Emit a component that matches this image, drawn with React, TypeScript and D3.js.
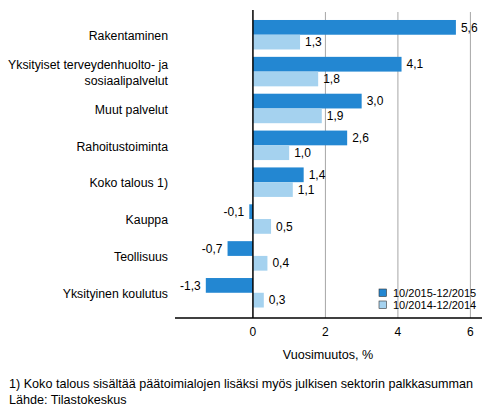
import React from 'react';
import * as d3 from 'd3';

// Toimialat ja vuosimuutokset
const categories = [
  'Rakentaminen',
  'Yksityiset terveydenhuolto- ja\nsosiaalipalvelut',
  'Muut palvelut',
  'Rahoitustoiminta',
  'Koko talous 1)',
  'Kauppa',
  'Teollisuus',
  'Yksityinen koulutus'
];
const series2015 = [5.6, 4.1, 3.0, 2.6, 1.4, -0.1, -0.7, -1.3];
const series2014 = [1.3, 1.8, 1.9, 1.0, 1.1, 0.5, 0.4, 0.3];
const seriesNames = ['10/2015-12/2015', '10/2014-12/2014'];
const xTicks = [0, 2, 4, 6];
const footnotes = [
  '1) Koko talous sisältää päätoimialojen lisäksi myös julkisen sektorin palkkasumman',
  'Lähde: Tilastokeskus'
];

const colors = ['#2387d2', '#a5d2ef'];
const font = 'Arial, "Liberation Sans", sans-serif';
const fmt = (v: number) => v.toFixed(1).replace('.', ',');

const App: React.FC = () => {
  const width = 493;
  const height = 416;
  const plotTop = 10;
  const plotBottom = 318;

  const x = d3.scaleLinear().domain([-2.15, 6.32]).range([175, 482]);
  const y = d3.scaleBand<string>()
    .domain(categories)
    .range([16.3, 311.2])
    .paddingInner(0.2)
    .paddingOuter(0.1);
  const sub = d3.scaleBand<number>().domain([0, 1]).range([0, y.bandwidth()]);

  const rows = categories.map((c, i) => ({ c, vals: [series2015[i], series2014[i]] }));

  return (
    <div style={{ position: 'absolute', left: 0, top: 0 }}>
      <svg width={width} height={height} style={{ display: 'block', background: '#fff' }} fontFamily={font} fontSize={12}>
        {/* ruudukko */}
        {xTicks.filter(t => t !== 0).map(t => (
          <line key={t} x1={x(t)} x2={x(t)} y1={12} y2={plotBottom} stroke="#a6a6a6" strokeWidth={1} />
        ))}

        {/* palkit */}
        {rows.map(r => (
          <g key={r.c} transform={`translate(0,${y(r.c)})`}>
            {r.vals.map((v, j) => {
              const x0 = x(Math.min(0, v));
              const x1 = x(Math.max(0, v));
              const yy = sub(j)!;
              const h = sub.bandwidth();
              return (
                <g key={j}>
                  <rect x={x0} y={yy} width={x1 - x0} height={h} fill={colors[j]} />
                  <text
                    x={v < 0 ? x0 - 5 : x1 + 5}
                    y={yy + h / 2}
                    dy="0.35em"
                    textAnchor={v < 0 ? 'end' : 'start'}
                    fill="#000"
                  >
                    {fmt(v)}
                  </text>
                </g>
              );
            })}
          </g>
        ))}

        {/* luokkien nimet */}
        {categories.map(c => {
          const lines = c.split('\n');
          const cy = y(c)! + y.bandwidth() / 2;
          return (
            <text key={c} x={168} textAnchor="end" fill="#000" fontSize={12.3}>
              {lines.map((l, k) => (
                <tspan key={k} x={168} y={cy + (k - (lines.length - 1) / 2) * 16 + 1} dy="0.35em">
                  {l}
                </tspan>
              ))}
            </text>
          );
        })}

        {/* akselit */}
        <line x1={x(0)} x2={x(0)} y1={plotTop} y2={plotBottom} stroke="#000" strokeWidth={1.5} />
        <line x1={175} x2={482} y1={plotBottom} y2={plotBottom} stroke="#000" strokeWidth={1.5} />
        {xTicks.map(t => (
          <text key={t} x={x(t)} y={332} dy="0.35em" textAnchor="middle" fill="#000">
            {t}
          </text>
        ))}
        <text x={328} y={355} dy="0.35em" textAnchor="middle" fill="#000" fontSize={12.6}>
          Vuosimuutos, %
        </text>

        {/* selite */}
        {seriesNames.map((s, i) => (
          <g key={s} transform={`translate(379,${289 + i * 12})`}>
            <rect x={0} y={0} width={7.5} height={7.5} fill={colors[i]} stroke="#333" strokeWidth={0.6} />
            <text x={14} y={4} dy="0.35em" fill="#000" fontSize={11}>{s}</text>
          </g>
        ))}

        {/* alaviitteet */}
        {footnotes.map((f, i) => (
          <text key={i} x={9} y={384 + i * 16} dy="0.35em" fill="#000" fontSize={12.6}>
            {f}
          </text>
        ))}
      </svg>
    </div>
  );
};

export default App;
